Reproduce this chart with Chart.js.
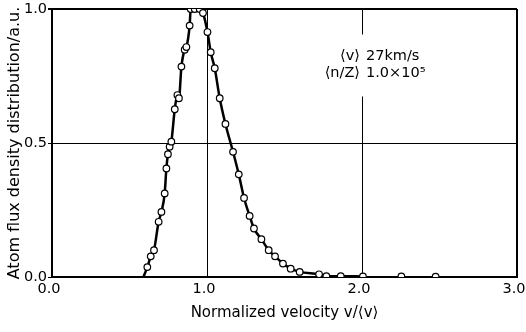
<!DOCTYPE html>
<html>
<head>
<meta charset="utf-8">
<script src="https://cdn.jsdelivr.net/npm/chart.js@4.4.0/dist/chart.umd.min.js"></script>
<style>
  html, body { margin: 0; padding: 0; background: #fff; }
  #wrap { width: 526px; height: 332px; }
</style>
</head>
<body>
<div id="wrap"><canvas id="velocity-chart" width="526" height="332"></canvas></div>
<script>
// measured points along the fitted curve
const velocity = [0.59, 0.615, 0.637, 0.658, 0.688, 0.706, 0.727, 0.738, 0.748, 0.759, 0.770,
  0.792, 0.809, 0.819, 0.835, 0.856, 0.867, 0.888, 0.895, 0.921, 0.953, 0.974, 1.003, 1.024,
  1.050, 1.082, 1.119, 1.168, 1.205, 1.239, 1.275, 1.303, 1.351, 1.398, 1.439, 1.490, 1.540,
  1.598, 1.723, 1.770, 1.863, 2.006];
const density = [0.0, 0.037, 0.077, 0.100, 0.206, 0.243, 0.312, 0.405, 0.458, 0.486, 0.505,
  0.626, 0.679, 0.667, 0.785, 0.848, 0.858, 0.938, 1.0, 1.0, 1.0, 0.985, 0.914, 0.839,
  0.779, 0.667, 0.571, 0.467, 0.383, 0.295, 0.228, 0.181, 0.141, 0.100, 0.077, 0.050, 0.031,
  0.019, 0.010, 0.003, 0.003, 0.002];

// points past the end of the curve
const tailVelocity = [2.254, 2.475];
const tailDensity = [0.002, 0.001];

const xTicks = [0, 1, 2, 3];
const yTicks = [0, 0.5, 1];

const annotationLabels = ['⟨v⟩', '⟨n/Z⟩'];
const annotationValues = ['27km/s', '1.0×10⁵'];

const FONT = 'DejaVu Sans';

const curveData = velocity.map((v, i) => ({ x: v, y: density[i] }));
const tailData = tailVelocity.map((v, i) => ({ x: v, y: tailDensity[i] }));

// white box with the mean values, drawn over the 2.0 grid line
const annotationBox = {
  id: 'annotationBox',
  afterDatasetsDraw(chart) {
    const { ctx, scales } = chart;
    const xMid = scales.x.getPixelForValue(2.0);
    const yTop = scales.y.getPixelForValue(0.905);
    ctx.save();
    ctx.fillStyle = '#fff';
    ctx.fillRect(xMid - 46, yTop, 104, 62);
    ctx.fillStyle = '#000';
    ctx.font = '14.5px "' + FONT + '"';
    ctx.textBaseline = 'middle';
    annotationLabels.forEach((label, i) => {
      const y = yTop + 22 + i * 17;
      ctx.textAlign = 'right';
      ctx.fillText(label, xMid - 2, y);
      ctx.textAlign = 'left';
      ctx.fillText(annotationValues[i], xMid + 4, y);
    });
    ctx.restore();
  }
};

const ctx = document.getElementById('velocity-chart').getContext('2d');
new Chart(ctx, {
  type: 'scatter',
  data: {
    datasets: [
      {
        data: curveData,
        showLine: true,
        borderColor: '#000',
        borderWidth: 2.5,
        cubicInterpolationMode: 'monotone',
        pointRadius: (c) => (c.dataIndex === 0 ? 0 : 3.3),
        pointBackgroundColor: '#fff',
        pointBorderColor: '#000',
        pointBorderWidth: 1.2,
      },
      {
        data: tailData,
        showLine: false,
        pointRadius: 3.3,
        pointBackgroundColor: '#fff',
        pointBorderColor: '#000',
        pointBorderWidth: 1.2,
      },
    ],
  },
  options: {
    responsive: false,
    animation: false,
    layout: { padding: { top: 9, right: 9, left: 0, bottom: 0 } },
    plugins: {
      legend: { display: false },
      tooltip: { enabled: false },
    },
    scales: {
      x: {
        type: 'linear',
        min: 0,
        max: 3,
        afterBuildTicks: (scale) => { scale.ticks = xTicks.map(v => ({ value: v })); },
        afterFit: (scale) => {
          scale.height = 55;
          scale.paddingLeft = 0;
          scale.paddingRight = 0;
        },
        ticks: {
          color: '#000',
          font: { family: FONT, size: 14.5 },
          padding: 4,
          labelOffset: -3,
          maxRotation: 0,
          callback: (v) => v.toFixed(1),
        },
        grid: {
          color: '#000',
          lineWidth: (c) => (c.index === 3 ? 2 : 1),
          drawTicks: false,
        },
        border: { color: '#000', width: 2 },
        title: {
          display: true,
          text: 'Normalized velocity v/⟨v⟩',
          color: '#000',
          font: { family: FONT, size: 15 },
          padding: { top: 0, bottom: 10 },
        },
      },
      y: {
        min: 0,
        max: 1,
        afterBuildTicks: (scale) => { scale.ticks = yTicks.map(v => ({ value: v })); },
        afterFit: (scale) => {
          scale.width = 52;
          scale.paddingTop = 0;
          scale.paddingBottom = 0;
        },
        ticks: {
          color: '#000',
          font: { family: FONT, size: 14.5 },
          padding: 1,
          callback: (v) => v.toFixed(1),
        },
        grid: {
          color: '#000',
          lineWidth: (c) => (c.index === 2 ? 2 : 1),
          tickLength: 4,
        },
        border: { color: '#000', width: 2 },
        title: {
          display: true,
          text: 'Atom flux density distribution/a.u.',
          color: '#000',
          font: { family: FONT, size: 16 },
          padding: { top: 5, bottom: 0 },
        },
      },
    },
  },
  plugins: [annotationBox],
});
</script>
</body>
</html>
